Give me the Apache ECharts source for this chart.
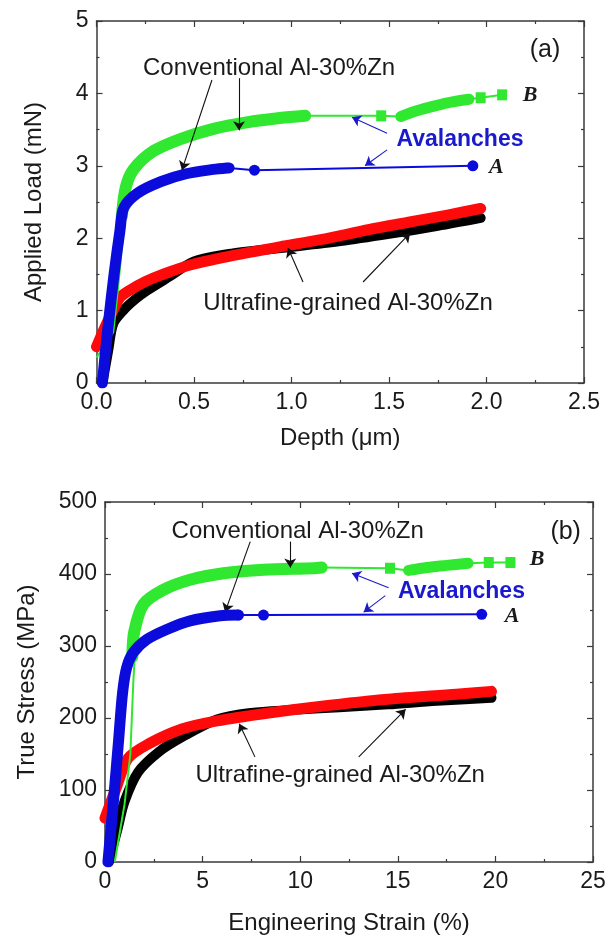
<!DOCTYPE html>
<html><head><meta charset="utf-8">
<script src="https://cdn.jsdelivr.net/npm/echarts@6/dist/echarts.min.js"></script>
<style>html,body{margin:0;padding:0;background:#fff}#c{width:615px;height:936px}</style>
</head><body><div id="c"></div>
<script>
// ---------- Panel (a): Applied Load (mN) vs Depth (um) ----------
const aXLabels = ['0.0','0.5','1.0','1.5','2.0','2.5'];
const aYLabels = ['0','1','2','3','4','5'];
const aBlackBand = [[0.03,0],[0.06,0.45],[0.086,0.82],[0.14,1.01],[0.2,1.16],[0.26,1.28],[0.38,1.48],[0.5,1.68],[0.7,1.79],[1.0,1.88],[1.25,1.96],[1.5,2.06],[1.75,2.17],[1.97,2.28]];
const aRedBand = [[0.0,0.5],[0.04,0.75],[0.086,1.01],[0.12,1.18],[0.17,1.28],[0.25,1.4],[0.33,1.49],[0.48,1.63],[0.68,1.75],[0.94,1.88],[1.15,1.98],[1.4,2.12],[1.6,2.22],[1.8,2.32],[1.97,2.41]];
const aGreenRise = [[0.0,0.35],[0.086,0.7],[0.11,1.3],[0.135,2.0],[0.15,2.4]];
const aGreenBand1 = [[0.13,2.3],[0.15,2.7],[0.19,2.95],[0.29,3.2],[0.43,3.37],[0.6,3.51],[0.77,3.6],[0.94,3.66],[1.07,3.69]];
const aGreenGap = [[1.07,3.69],[1.46,3.69],[1.56,3.68]];
const aGreenBand2 = [[1.56,3.68],[1.63,3.75],[1.71,3.81],[1.8,3.87],[1.91,3.92]];
const aGreenTail = [[1.91,3.92],[1.97,3.94],[2.08,3.98]];
const aGreenSquares = [[1.46,3.69],[1.97,3.94],[2.08,3.98]];
const aBlueBand = [[0.03,0],[0.06,0.8],[0.09,1.5],[0.12,2.1],[0.14,2.42],[0.21,2.62],[0.33,2.78],[0.46,2.89],[0.6,2.95],[0.67,2.97]];
const aBlueTail = [[0.68,2.97],[0.81,2.94],[1.93,3.0]];

// ---------- Panel (b): True Stress (MPa) vs Engineering Strain (%) ----------
const bXLabels = ['0','5','10','15','20','25'];
const bYLabels = ['0','100','200','300','400','500'];
const bBlackBand = [[0.2,0],[0.65,47],[1.0,84],[1.7,125],[2.76,153],[3.98,174],[5.74,198],[7.5,207],[9.5,211],[12,215],[14.5,219],[17,224],[19.8,228]];
const bRedBand = [[0,61],[0.6,105],[1.18,144],[2.23,164],[3.98,185],[5.74,196],[8.38,207],[11,216],[14.5,226],[18,233],[19.8,237]];
const bGreenRise = [[0.5,0],[1.0,80],[1.3,150],[1.45,250],[1.55,300]];
const bGreenBand1 = [[1.4,285],[1.5,320],[1.97,358],[2.99,378],[4.36,392],[6.07,401],[8.12,406],[10.7,408],[11.1,409]];
const bGreenGap = [[11.1,409],[14.6,408],[15.55,405]];
const bGreenBand2 = [[15.55,405],[16.5,409],[17.5,412],[18.6,415]];
const bGreenTail = [[18.6,415],[19.66,416],[20.77,416]];
const bGreenSquares = [[14.6,408],[19.66,416],[20.77,416]];
const bBlueBand = [[0.15,0],[0.45,90],[0.7,170],[0.9,235],[1.11,270],[1.45,291],[2.14,309],[3.16,323],[4.36,335],[5.9,342],[6.8,343]];
const bBlueTail = [[6.84,343],[8.12,343],[19.3,344]];

const GREEN = '#2fe82f', BLUE = '#0b0bdc', RED = '#ff0a0a', BLACK = '#000000';
const FONT = "'Liberation Sans', Arial, sans-serif";
const AXC = '#3a3a3a';

function axisPair(gi, isX, min, max, interval, labels, name, nameGap) {
  const base = {
    gridIndex: gi, type: 'value', min: min, max: max, interval: interval,
    axisLine: {show: true, onZero: false, lineStyle: {color: AXC, width: 1.5}},
    axisTick: {show: true, inside: true, length: 6, lineStyle: {color: AXC, width: 1.2}},
    minorTick: {show: true, splitNumber: 2, length: 3, lineStyle: {color: AXC, width: 1.2}},
    splitLine: {show: false}
  };
  const main = Object.assign({}, base, {
    position: isX ? 'bottom' : 'left',
    name: name, nameLocation: 'middle', nameGap: nameGap,
    nameTextStyle: {fontFamily: FONT, fontSize: 24, color: '#1a1a1a'},
    axisLabel: {show: true, fontFamily: FONT, fontSize: 23, color: '#1a1a1a', margin: 8,
      formatter: function (v) { const i = Math.round((v - min) / interval); return labels[i]; }}
  });
  const other = Object.assign({}, base, {position: isX ? 'top' : 'right', axisLabel: {show: false}});
  return [main, other];
}

const xAxes = [].concat(
  axisPair(0, true, 0, 2.5, 0.5, aXLabels, 'Depth (\u03bcm)', 43),
  axisPair(1, true, 0, 25, 5, bXLabels, 'Engineering Strain (%)', 49)
);
const yAxes = [].concat(
  axisPair(0, false, 0, 5, 1, aYLabels, 'Applied Load (mN)', 50),
  axisPair(1, false, 0, 500, 100, bYLabels, 'True Stress (MPa)', 66)
);

function band(gi, data, color, w, z) {
  return {type: 'line', xAxisIndex: gi * 2, yAxisIndex: gi * 2, data: data, showSymbol: false, symbol: 'none',
    smooth: 0.3, lineStyle: {color: color, width: w, join: 'round', cap: 'round'}, z: z, silent: true};
}
function thin(gi, data, color, z) {
  return {type: 'line', xAxisIndex: gi * 2, yAxisIndex: gi * 2, data: data, symbol: 'none',
    lineStyle: {color: color, width: 2}, z: z, silent: true};
}
function marks(gi, data, color, sym, size, z) {
  return {type: 'scatter', xAxisIndex: gi * 2, yAxisIndex: gi * 2, data: data, symbol: sym, symbolSize: size,
    itemStyle: {color: color, opacity: 1}, z: z, silent: true};
}
function arrows(gi, list) {
  return {type: 'scatter', xAxisIndex: gi * 2, yAxisIndex: gi * 2, data: [], silent: true, z: 20,
    markLine: {silent: true, symbol: ['none', 'arrow'], symbolSize: 9, animation: false,
      label: {show: false},
      data: list.map(a => [
        {coord: a[0], lineStyle: {color: a[2], width: 1.1, type: 'solid'}, itemStyle: {color: a[2]}},
        {coord: a[1], itemStyle: {color: a[2]}}
      ])}};
}

// arrows: [from, to, color] in data coordinates
const aArrows = [
  [[0.592,4.185],[0.438,2.94],'#111'],
  [[0.731,4.21],[0.731,3.49],'#111'],
  [[1.059,1.395],[0.982,1.865],'#111'],
  [[1.367,1.395],[1.608,2.07],'#111'],
  [[1.49,3.45],[1.31,3.67],'#1a1acc'],
  [[1.49,3.22],[1.377,3.0],'#1a1acc']
];
const bArrows = [
  [[7.44,445],[6.15,347],'#111'],
  [[9.49,445],[9.49,409],'#111'],
  [[7.68,146],[6.88,192],'#111'],
  [[13.0,146],[15.4,212],'#111'],
  [[14.53,381],[12.65,401],'#1a1acc'],
  [[14.36,370],[13.25,347],'#1a1acc']
];

const series = [
  band(0, aBlackBand, BLACK, 10, 2),
  band(0, aRedBand, RED, 11, 3),
  thin(0, aGreenRise, GREEN, 4),
  band(0, aGreenBand1, GREEN, 12, 4),
  thin(0, aGreenGap, GREEN, 4),
  band(0, aGreenBand2, GREEN, 11, 4),
  thin(0, aGreenTail, GREEN, 4),
  marks(0, aGreenSquares, GREEN, 'rect', [10, 11], 5),
  band(0, aBlueBand, BLUE, 11, 6),
  thin(0, aBlueTail, BLUE, 6),
  marks(0, aBlueTail, BLUE, 'circle', 11, 7),
  arrows(0, aArrows),

  band(1, bBlackBand, BLACK, 10, 2),
  band(1, bRedBand, RED, 11, 3),
  thin(1, bGreenRise, GREEN, 4),
  band(1, bGreenBand1, GREEN, 12, 4),
  thin(1, bGreenGap, GREEN, 4),
  band(1, bGreenBand2, GREEN, 11, 4),
  thin(1, bGreenTail, GREEN, 4),
  marks(1, bGreenSquares, GREEN, 'rect', [10, 11], 5),
  band(1, bBlueBand, BLUE, 11, 6),
  thin(1, bBlueTail, BLUE, 6),
  marks(1, bBlueTail, BLUE, 'circle', 11, 7),
  arrows(1, bArrows)
];

const chart = echarts.init(document.getElementById('c'), null, {renderer: 'canvas', width: 615, height: 936});
chart.setOption({
  animation: false,
  backgroundColor: '#ffffff',
  grid: [
    {left: 96.5, top: 21, width: 487.5, height: 362},
    {left: 105, top: 502, width: 488, height: 362}
  ],
  xAxis: xAxes,
  yAxis: yAxes,
  series: series
});

// text annotations placed at data coordinates
const SERIF = "'Liberation Serif', 'Times New Roman', serif";
const texts = [
  [0, [0.885,4.35], 'Conventional Al-30%Zn', {fontSize: 24, fill: '#1a1a1a'}],
  [0, [1.29,1.105], 'Ultrafine-grained Al-30%Zn', {fontSize: 24, fill: '#1a1a1a'}],
  [0, [1.864,3.356], 'Avalanches', {fontSize: 23, fontWeight: 'bold', fill: '#1a1acc'}],
  [0, [2.3,4.6], '(a)', {fontSize: 25, fill: '#1a1a1a'}],
  [0, [2.223,3.98], 'B', {fontSize: 22, fontWeight: 'bold', fontStyle: 'italic', fontFamily: SERIF, fill: '#1a1a1a'}],
  [0, [2.05,2.98], 'A', {fontSize: 22, fontWeight: 'bold', fontStyle: 'italic', fontFamily: SERIF, fill: '#1a1a1a'}],
  [1, [9.87,458.6], 'Conventional Al-30%Zn', {fontSize: 24, fill: '#1a1a1a'}],
  [1, [12.05,120], 'Ultrafine-grained Al-30%Zn', {fontSize: 24, fill: '#1a1a1a'}],
  [1, [18.26,375.7], 'Avalanches', {fontSize: 23, fontWeight: 'bold', fill: '#1a1acc'}],
  [1, [23.6,458.6], '(b)', {fontSize: 25, fill: '#1a1a1a'}],
  [1, [22.14,420], 'B', {fontSize: 22, fontWeight: 'bold', fontStyle: 'italic', fontFamily: SERIF, fill: '#1a1a1a'}],
  [1, [20.86,341.6], 'A', {fontSize: 22, fontWeight: 'bold', fontStyle: 'italic', fontFamily: SERIF, fill: '#1a1a1a'}]
];
const graphics = texts.map(function (t) {
  const p = chart.convertToPixel({xAxisIndex: t[0] * 2, yAxisIndex: t[0] * 2}, t[1]);
  return {type: 'text', x: p[0], y: p[1], z: 30, silent: true,
    style: Object.assign({text: t[2], fontFamily: FONT, align: 'center', verticalAlign: 'middle'}, t[3])};
});
chart.setOption({graphic: graphics});
</script></body></html>
